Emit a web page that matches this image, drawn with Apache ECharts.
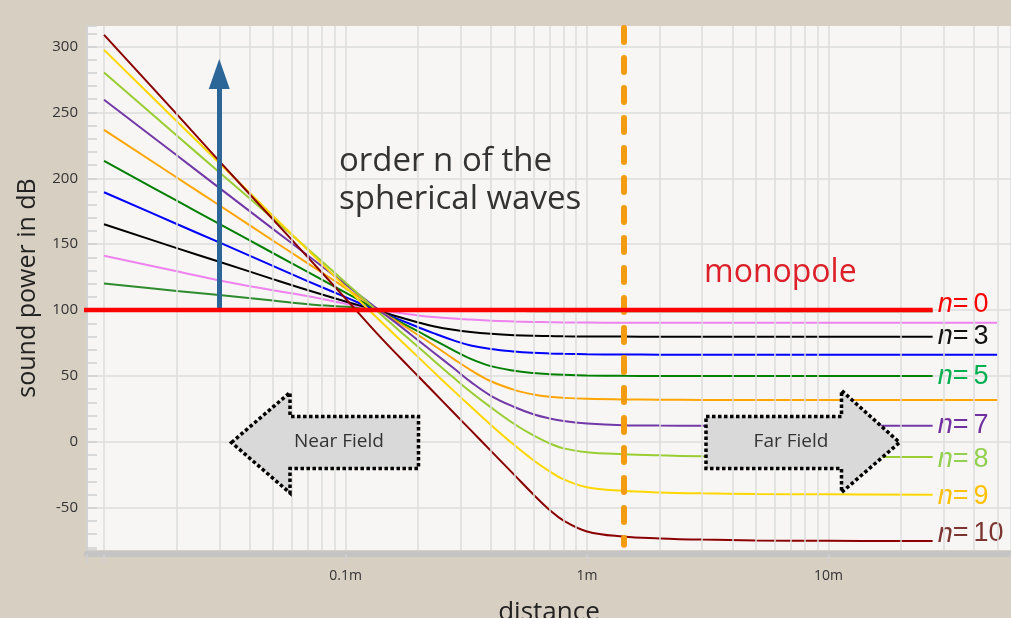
<!DOCTYPE html>
<html lang="en">
<head>
    <meta charset="UTF-8">
    <title>Spherical waves</title>
    <script src="https://cdn.jsdelivr.net/npm/echarts@6.0.0/dist/echarts.min.js"></script>
    <style>
        html, body { margin: 0; padding: 0; background: #d8cfc3; }
    </style>
</head>
<body>
    <div id="main" style="width: 1011px;height:618px;"></div>
    <script type="text/javascript">
        const distance = [0.01, 0.02, 0.03, 0.05, 0.07, 0.1, 0.137, 0.168, 0.2, 0.231, 0.28, 0.33,
                          0.4, 0.5, 0.6, 0.7, 0.8, 1.0, 1.41, 2, 3, 5, 10, 27, 50];

        // sound power in dB for each order n
        const n1  = [120.2, 114.5, 111.5, 107.3, 104.5, 102.5, 100.8, 100.2, 99.8, 99.6, 99.5, 99.4, 99.3, 99.3, 99.2, 99.2, 99.2, 99.2, 99.2, 99.2, 99.2, 99.2, 99.2, 99.2];
        const n2  = [141.2, 129.5, 122.5, 115, 110.5, 104.8, 100.2, 97.7, 96, 94.8, 93.6, 92.8, 92, 91.4, 91, 90.8, 90.6, 90.5, 90.4, 90.4, 90.4, 90.4, 90.4, 90.4, 90.4];
        const n3  = [165.1, 147, 136.7, 123.5, 115, 106.5, 99.5, 94.5, 90.6, 87.8, 85, 83.3, 82, 81, 80.5, 80.3, 80.1, 80, 79.9, 79.8, 79.8, 79.8, 79.8, 79.8];
        const n4  = [189.4, 165.3, 151.3, 133.5, 121.8, 109.8, 99, 92.6, 87, 82.5, 77, 73.2, 70.5, 68.6, 67.6, 67.1, 66.8, 66.5, 66.3, 66.2, 66.1, 66.1, 66.1, 66.1, 66.1];
        const n5  = [213.1, 183, 165.4, 143.3, 128.8, 113.3, 99.6, 91, 83.8, 77.5, 69.5, 63, 57.5, 54, 52.3, 51.4, 50.9, 50.4, 50.1, 50, 49.9, 49.9, 49.9, 49.9];
        const n6  = [236.7, 200.6, 179.5, 152.8, 135.3, 116.7, 100, 90, 81, 73.5, 63, 54.5, 46, 39.5, 36, 34.2, 33.4, 32.7, 32.2, 32, 31.8, 31.7, 31.7, 31.7, 31.7];
        const n7  = [259.5, 217.4, 192.7, 161.6, 141.2, 119.5, 100.3, 88, 77, 68, 56, 45.5, 35, 26.5, 21, 17.8, 15.8, 14, 12.7, 12.4, 12.3, 12.2, 12.2, 12.2];
        const n8  = [280.2, 232.4, 204.6, 169.5, 146.2, 121, 98.3, 84, 72, 62, 48.8, 37.9, 26.2, 13.6, 4.9, -1.1, -4.9, -7.8, -9.3, -10.2, -10.9, -11.3, -11.4, -11.4];
        const n9  = [297.4, 243.3, 211.6, 171.6, 145.4, 117.5, 93, 77.5, 64.3, 53.3, 38.9, 26.8, 12.9, -2.4, -13.9, -22.3, -28.4, -34.4, -37.1, -38.3, -39, -39.5, -39.8, -40];
        const n10 = [308.8, 248.6, 213, 168.9, 139.8, 108.8, 81, 64, 49.8, 38, 22.3, 8.9, -6.8, -25, -39.9, -51.6, -59.7, -67.9, -71.8, -73.2, -74.1, -74.7, -75, -75.2];

        // monopole (n = 0) is flat
        const monopoleLevel = 100;
        const monopoleRange = [0.0079, 27];

        // annotations
        const arrowDistance = 0.03;       // blue "order n" arrow
        const arrowRange = [100, 279];
        const farFieldStart = 1.414;      // orange dashed border
        const farFieldRange = [314, -78];

        const xTickValues = [0.1, 1, 10];
        const xTickLabels = ['0.1m', '1m', '10m'];
        const minorFactors = [2, 3, 4, 5, 6, 7, 8, 9];
        const decades = [0.01, 0.1, 1, 10];

        let myChart = echarts.init(document.getElementById('main'));

        const xMin = 0.0085, xMax = 57;
        const minorX = [];
        decades.forEach(d => minorFactors.forEach(f => { if (d * f < xMax) minorX.push(+(d * f).toPrecision(3)); }));

        function pairs(values) {
            return values.map((v, i) => [distance[i], v]);
        }

        function endLabel(num, color, dy) {
            const base = { fontFamily: 'Liberation Sans', fontSize: 27, color: color };
            return {
                show: true,
                distance: 5,
                offset: [0, dy],
                formatter: '{i|n}{e|=}{d|' + num + '}',
                rich: {
                    i: Object.assign({ fontStyle: 'italic' }, base),
                    e: Object.assign({ padding: [0, 5, 0, 0] }, base),
                    d: base
                }
            };
        }

        function curve(name, values, color, label) {
            const s = {
                name: name,
                type: 'line',
                data: pairs(values),
                showSymbol: false,
                smooth: 0.4,
                lineStyle: { color: color, width: 2 },
                z: 3
            };
            if (label) s.endLabel = label;
            return s;
        }

        const series = [
            // minor vertical grid lines at 2..9 of every decade
            {
                type: 'line', data: [], silent: true, z: 1,
                markLine: {
                    silent: true, symbol: 'none', label: { show: false },
                    lineStyle: { color: '#dcdcdc', width: 1.5, type: 'solid' },
                    data: minorX.map(x => ({ xAxis: x }))
                }
            },
            curve('n=1', n1, '#2e8b2e'),
            curve('n=2', n2, '#ee82ee'),
            curve('n=3', n3, '#000000', endLabel(3, '#111111', 0)),
            curve('n=4', n4, '#0000ff'),
            curve('n=5', n5, '#008000', endLabel(5, '#00b050', 0)),
            curve('n=6', n6, '#ffa500'),
            curve('n=7', n7, '#7338a8', endLabel(7, '#7030a0', 0)),
            curve('n=8', n8, '#9acd32', endLabel(8, '#92d050', 3)),
            curve('n=9', n9, '#ffd700', endLabel(9, '#ffc000', 2)),
            curve('n=10', n10, '#8b0000', endLabel(10, '#7b3530', -7)),
            {
                name: 'n=0',
                type: 'line',
                data: [[monopoleRange[0], monopoleLevel], [monopoleRange[1], monopoleLevel]],
                showSymbol: false,
                clip: false,
                lineStyle: { color: '#ff0000', width: 4.5 },
                endLabel: endLabel(0, '#ff0000', -6),
                z: 5
            },
            {
                type: 'line', data: [], silent: true, z: 6,
                markLine: {
                    silent: true, label: { show: false },
                    lineStyle: { color: '#2c6699', width: 5, type: 'solid' },
                    data: [[
                        { coord: [arrowDistance, arrowRange[0]], symbol: 'none' },
                        { coord: [arrowDistance, arrowRange[1]], symbol: 'triangle', symbolSize: [21, 30] }
                    ]]
                }
            },
            {
                type: 'line', data: [], silent: true, z: 7,
                markLine: {
                    silent: true, symbol: 'none', label: { show: false },
                    lineStyle: { color: '#f39c12', width: 6, type: [14, 16], cap: 'round' },
                    data: [[
                        { coord: [farFieldStart, farFieldRange[0]] },
                        { coord: [farFieldStart, farFieldRange[1]] }
                    ]]
                }
            }
        ];

        const boxStyle = { fill: '#d9d9d9', stroke: '#000', lineWidth: 3.5, lineDash: [3.5, 2.5] };
        const noteFont = { fontFamily: 'Open Sans', fill: '#333' };

        let options = {
            animation: false,
            backgroundColor: '#d8cfc3',
            grid: {
                left: 87, right: 0, top: 26, bottom: 68,
                show: true, backgroundColor: '#f7f6f4', borderWidth: 0,
                containLabel: false, outerBoundsMode: 'none'
            },
            xAxis: {
                type: 'log', logBase: 10, min: xMin, max: xMax,
                name: 'distance', nameLocation: 'middle', nameGap: 46,
                nameTextStyle: { fontSize: 26, color: '#222', fontFamily: 'Open Sans' },
                offset: 4,
                axisLine: { show: true, onZero: false, lineStyle: { color: '#c4c4c4', width: 6 } },
                axisTick: { show: true, length: 9, lineStyle: { color: '#d0d0d0', width: 1.5 } },
                axisLabel: {
                    margin: 15, fontSize: 14, color: '#333', fontFamily: 'Open Sans',
                    formatter: v => {
                        const i = xTickValues.findIndex(t => Math.abs(v / t - 1) < 1e-6);
                        return i < 0 ? '' : xTickLabels[i];
                    }
                },
                splitLine: { show: true, lineStyle: { color: '#dcdcdc', width: 1.5 } }
            },
            yAxis: {
                type: 'value', min: -82, max: 315.5, splitNumber: 8,
                name: 'sound power in dB', nameLocation: 'middle', nameGap: 47,
                nameTextStyle: { fontSize: 25, color: '#222', fontFamily: 'Open Sans' },
                axisLine: { show: true, onZero: false, lineStyle: { color: '#d2d2d2', width: 2 } },
                axisTick: { show: true, inside: true, length: 10, lineStyle: { color: '#cfcfcf', width: 1.5 } },
                minorTick: { show: true, splitNumber: 5, length: 10, lineStyle: { color: '#cfcfcf', width: 1.5 } },
                axisLabel: {
                    margin: 9, fontSize: 15, color: '#333', fontFamily: 'Open Sans',
                    formatter: v => (v % 50 === 0 ? String(v) : '')
                },
                splitLine: { show: true, showMinLine: false, showMaxLine: false, lineStyle: { color: '#dcdcdc', width: 1.5 } }
            },
            graphic: [
                {
                    type: 'text', left: 339, top: 143, z: 50,
                    style: Object.assign({ text: 'order n of the\nspherical waves', fontSize: 33, lineHeight: 38 }, noteFont)
                },
                {
                    type: 'text', left: 704, top: 257, z: 50,
                    style: { text: 'monopole', fontSize: 32, fontFamily: 'Open Sans', fill: '#dc1f28' }
                },
                {
                    type: 'polygon', z: 100,
                    shape: { points: [[231.5, 442.5], [290, 392.5], [290, 416.5], [418.5, 416.5], [418.5, 468.5], [290, 468.5], [290, 493]] },
                    style: boxStyle
                },
                {
                    type: 'text', z: 101, x: 339, y: 442,
                    style: Object.assign({ text: 'Near Field', fontSize: 19, align: 'center', verticalAlign: 'middle' }, noteFont)
                },
                {
                    type: 'polygon', z: 100,
                    shape: { points: [[706, 416.5], [841.5, 416.5], [841.5, 390.5], [899.5, 442.5], [841.5, 492.5], [841.5, 468.5], [706, 468.5]] },
                    style: boxStyle
                },
                {
                    type: 'text', z: 101, x: 791, y: 442,
                    style: Object.assign({ text: 'Far Field', fontSize: 19, align: 'center', verticalAlign: 'middle' }, noteFont)
                }
            ],
            series: series
        };

        myChart.setOption(options);
    </script>
</body>
</html>
